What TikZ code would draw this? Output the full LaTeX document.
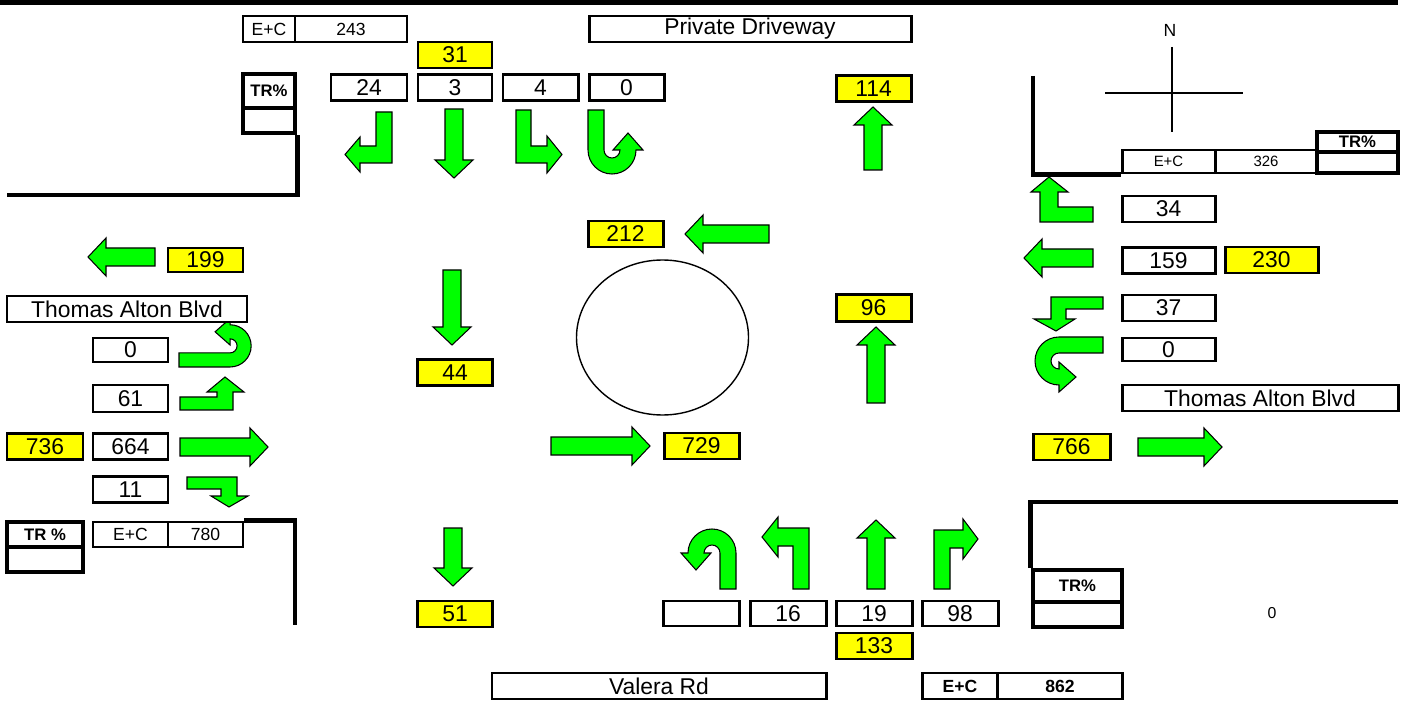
\documentclass[tikz,border=0pt]{standalone}
\usepackage{fontspec}
\setmainfont{Liberation Sans}
\usetikzlibrary{shapes.geometric}
\definecolor{volYellow}{RGB}{255,255,0}
\definecolor{arrGreen}{RGB}{0,255,0}
\newlength\pxu
\setlength\pxu{0.02cm}
\tikzset{
    cnt/.style={
        draw, line width=1.7pt, fill=white, inner sep=0pt,
        minimum width=75*\pxu, minimum height=26*\pxu,
        font=\fontsize{13}{15}\selectfont,
    },
    vol/.style={cnt, fill=volYellow},
    ecbox/.style={cnt, font=\fontsize{10}{12}\selectfont},
    trbox/.style={
        cnt, line width=2.8pt,
        font=\fontsize{9.5}{11}\selectfont\bfseries,
    },
    road/.style={line width=2.8pt},
    compass/.style={line width=1.2pt},
    arw/.style={
        draw=black, line width=0.6pt, fill=arrGreen, line join=miter,
    },
    % straight arrow, tail centre at origin, pointing down
    pics/sarrow/.style={code={
        \path[arw] (-9,0) -- (9,0) -- (9,#1-18) -- (19,#1-18) -- (0,#1)
            -- (-19,#1-18) -- (-9,#1-18) -- cycle;
    }},
    % u-turn, shaft goes down from origin and comes back up on the right
    pics/uturn/.style={code={
        \path[arw] (0,0) -- (16,0) -- (16,#1)
            arc[start angle=180, end angle=0, radius=8]
            -- (25,#1) -- (40,#1-17) -- (55,#1) -- (48,#1)
            arc[start angle=0, end angle=180, radius=24] -- cycle;
    }},
}

\begin{document}
\begin{tikzpicture}[x=0.02cm, y=-0.02cm]
\useasboundingbox (0,0) rectangle (1403,702);

\draw[road] (0,2.5) -- (1398,2.5);

% ============================================================
%   North approach (Private Driveway)
% ============================================================
\node[ecbox, minimum width=52*\pxu] (ecN)  at (269,29) {E+C};
\node[ecbox, minimum width=112*\pxu] (ecNv) at (351,29) {243};
\node[cnt, minimum width=322*\pxu] (drive) at (750,29) {Private Driveway};
\node[vol, minimum width=74*\pxu] (v31) at (455,55) {31};

\node[trbox, minimum width=52*\pxu, minimum height=34*\pxu] (trNW)  at (269,91) {TR\%};
\node[trbox, minimum width=52*\pxu, minimum height=25*\pxu] (trNWv) at (269,120.5) {};
\draw[road] (7,195) -| (trNWv.south east);

\node[cnt, minimum width=76*\pxu] (n24) at (369,87.5) {24};
\node[cnt, minimum width=74*\pxu] (n3)  at (455,87.5) {3};
\node[cnt] (n4)  at (540.5,87.5) {4};
\node[cnt] (n0N) at (626.5,87.5) {0};

\path[arw] (376,112) -- (392,112) -- (392,163) -- (360,163) -- (360,172)
    -- (345,154.5) -- (360,137) -- (360,146) -- (376,146) -- cycle;
\pic at (454,109) {sarrow=69};
\path[arw] (516,110) -- (531,110) -- (531,146) -- (547,146) -- (547,136)
    -- (562,154.5) -- (547,173) -- (547,163) -- (516,163) -- cycle;
\pic at (588,110) {uturn=40};

\node[vol] (v114) at (873.5,88.5) {114};
\pic[rotate=180] at (873,170) {sarrow=63};

% ============================================================
%   North arrow and north-east corner
% ============================================================
\node[font=\fontsize{10}{12}\selectfont] (north) at (1170,30) {N};
\draw[compass] (1172,47) -- (1172,132);
\draw[compass] (1105,93) -- (1243,93);

\node[ecbox, minimum width=93*\pxu, minimum height=23*\pxu,
      font=\fontsize{8.5}{10}\selectfont] (ecE) at (1168.5,161.5) {E+C};
\node[ecbox, minimum width=102*\pxu, minimum height=23*\pxu,
      font=\fontsize{8.5}{10}\selectfont] (ecEv) at (1266,161.5) {326};
\node[trbox, minimum width=81*\pxu, minimum height=20*\pxu] (trNE)  at (1357.5,142) {TR\%};
\node[trbox, minimum width=81*\pxu, minimum height=21*\pxu] (trNEv) at (1357.5,162.5) {};
\draw[road] (1033,76) |- (ecE.south west);

% ============================================================
%   East approach (Thomas Alton Blvd)
% ============================================================
\node[cnt, minimum width=93*\pxu] (n34)  at (1168.5,209) {34};
\node[cnt, minimum width=93*\pxu] (n159) at (1168.5,260.5) {159};
\node[vol, minimum width=93*\pxu] (v230) at (1271.5,260) {230};
\node[cnt, minimum width=93*\pxu] (n37)  at (1168.5,308) {37};
\node[cnt, minimum width=93*\pxu, minimum height=23*\pxu] (n0E) at (1168.5,349.5) {0};
\node[cnt, minimum width=276*\pxu] (taE) at (1260,398) {Thomas Alton Blvd};

\path[arw] (1093,222) -- (1040,222) -- (1040,192) -- (1031,192) -- (1049,177)
    -- (1068,192) -- (1058,192) -- (1058,207) -- (1093,207) -- cycle;
\pic[rotate=-90] at (1093,258) {sarrow=69};
\path[arw] (1103,297) -- (1051,297) -- (1051,319) -- (1034,319) -- (1056,331)
    -- (1075,319) -- (1066,319) -- (1066,309) -- (1103,309) -- cycle;
\pic[rotate=-90] at (1103,337) {uturn=44};

\node[vol, minimum width=77*\pxu] (v766) at (1071.5,447) {766};
\pic[rotate=90] at (1138,447) {sarrow=84};

% ============================================================
%   Roundabout
% ============================================================
\node[draw, ellipse, line width=0.8pt, minimum width=172*\pxu,
      minimum height=155*\pxu] (rbt) at (662.5,337.5) {};
\node[vol] (v212) at (625.5,234) {212};
\pic[rotate=-90] at (769,234) {sarrow=84};
\node[vol] (v44) at (455,372.5) {44};
\pic at (452,270) {sarrow=75};
\node[vol, minimum height=27*\pxu] (v96) at (873.5,308) {96};
\pic[rotate=180] at (876,403) {sarrow=76};
\node[vol] (v729) at (701.5,446) {729};
\pic[rotate=90] at (551,446) {sarrow=99};

% ============================================================
%   West approach (Thomas Alton Blvd)
% ============================================================
\node[vol, minimum height=24*\pxu] (v199) at (205.5,260) {199};
\pic[rotate=-90] at (155,257) {sarrow=67};

\pic[rotate=90, scale=0.88] at (179,367) {uturn=58};
\node[cnt, minimum width=240*\pxu] (taW) at (127,309) {Thomas Alton Blvd};

\node[cnt, minimum height=24*\pxu] (n0W) at (130.5,350) {0};
\node[cnt, minimum height=27*\pxu] (n61) at (130.5,398.5) {61};
\node[vol, minimum width=76*\pxu] (v736) at (45,446.5) {736};
\node[cnt] (n664) at (130.5,446.5) {664};
\node[cnt] (n11)  at (130.5,489.5) {11};

\path[arw] (180,410) -- (180,397) -- (217,397) -- (217,392) -- (207,392)
    -- (225,377) -- (244,392) -- (233,392) -- (233,410) -- cycle;
\pic[rotate=90] at (180,447) {sarrow=88};
\path[arw] (187,477) -- (237,477) -- (237,496) -- (248,496) -- (229,507)
    -- (211,496) -- (221,496) -- (221,489) -- (187,489) -- cycle;

\node[trbox, minimum width=76*\pxu, minimum height=25*\pxu] (trSW)  at (45,534.5) {TR \%};
\node[trbox, minimum width=76*\pxu, minimum height=25*\pxu] (trSWv) at (45,559.5) {};
\node[ecbox, minimum height=25*\pxu] (ecW)  at (130.5,534.5) {E+C};
\node[ecbox, minimum height=25*\pxu] (ecWv) at (205.5,534.5) {780};
\draw[road] (ecWv.north east) -| (295,625);

% ============================================================
%   South approach (Valera Rd)
% ============================================================
\node[vol] (v51) at (455,614) {51};
\pic at (453,528) {sarrow=58};

\node[cnt, minimum width=76*\pxu, minimum height=25*\pxu] (nUS) at (701,613.5) {};
\node[cnt, minimum width=76*\pxu, minimum height=25*\pxu] (n16) at (788,613.5) {16};
\node[cnt, minimum width=76*\pxu, minimum height=25*\pxu] (n19) at (874,613.5) {19};
\node[cnt, minimum width=76*\pxu, minimum height=25*\pxu] (n98) at (960,613.5) {98};
\node[vol, minimum width=76*\pxu] (v133) at (874,646) {133};

\pic[rotate=180] at (736,589) {uturn=36};
\path[arw] (809,589) -- (793,589) -- (793,546) -- (778,546) -- (778,557)
    -- (762,537) -- (778,517) -- (778,528) -- (809,528) -- cycle;
\pic[rotate=180] at (876,589) {sarrow=69};
\path[arw] (934,589) -- (950,589) -- (950,548) -- (963,548) -- (963,559)
    -- (978,539) -- (963,519) -- (963,530) -- (934,530) -- cycle;

\node[cnt, minimum width=334*\pxu] (valera) at (659,686) {Valera Rd};
\node[ecbox, font=\fontsize{10}{12}\selectfont\bfseries] (ecS) at (960,686) {E+C};
\node[ecbox, minimum width=125*\pxu, font=\fontsize{10}{12}\selectfont\bfseries]
    (ecSv) at (1060,686) {862};

% ============================================================
%   South-east corner
% ============================================================
\node[trbox, minimum width=89*\pxu, minimum height=32*\pxu] (trSE)  at (1077.5,586) {TR\%};
\node[trbox, minimum width=89*\pxu, minimum height=25*\pxu] (trSEv) at (1077.5,614.5) {};
\draw[road] (1398,502) -| (trSE.north west);
\node[font=\fontsize{9}{11}\selectfont] (zeroSE) at (1272,613) {0};

\end{tikzpicture}
\end{document}
